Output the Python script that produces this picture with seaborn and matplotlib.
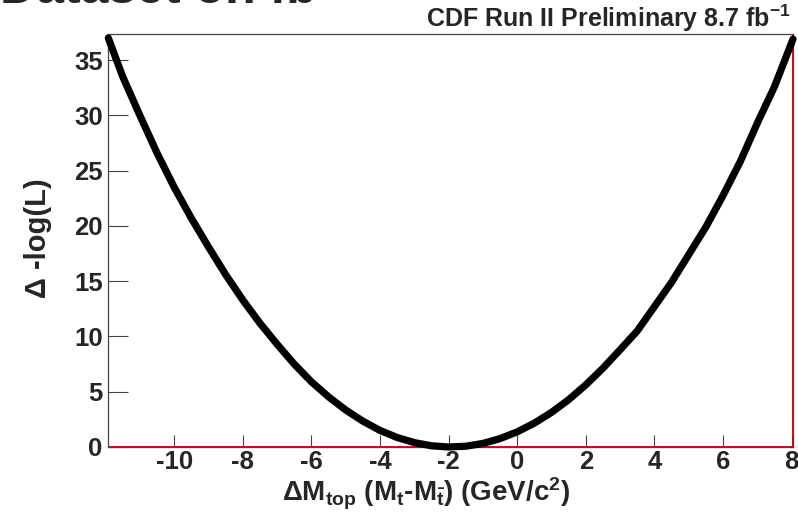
import matplotlib
matplotlib.use("Agg")
import matplotlib.pyplot as plt
import seaborn as sns
import pandas as pd

# Likelihood scan: mass difference (GeV/c^2) vs. Delta -log(L)
delta_m = [-11.92, -11.5, -11.0, -10.5, -10.0, -9.5, -9.0, -8.5, -8.0, -7.5,
           -7.0, -6.5, -6.0, -5.5, -5.0, -4.5, -4.0, -3.5, -3.0, -2.5, -2.0,
           -1.5, -1.0, -0.5, 0.0, 0.5, 1.0, 1.5, 2.0, 2.5, 3.0, 3.5, 4.0, 4.5,
           5.0, 5.5, 6.0, 6.5, 7.0, 7.5, 8.04]
delta_nll = [37.0, 33.5, 30.0, 26.6, 23.5, 20.7, 18.1, 15.6, 13.3, 11.2,
             9.3, 7.5, 5.9, 4.54, 3.35, 2.34, 1.5, 0.86, 0.4, 0.11, 0.0,
             0.07, 0.32, 0.76, 1.37, 2.16, 3.13, 4.28, 5.62, 7.13, 8.8, 10.5,
             12.7, 14.9, 17.4, 19.9, 22.75, 25.8, 29.3, 32.6, 36.9]

# Empty histogram outline drawn along zero and the upper range edge
hist_edge_x = [-11.92, 8.04, 8.04]
hist_edge_y = [0.0, 0.0, 37.36]

x_ticks = [-10, -8, -6, -4, -2, 0, 2, 4, 6, 8]
y_ticks = [0, 5, 10, 15, 20, 25, 30, 35]

sns.set_style("white")
plt.rcParams["font.family"] = ["Liberation Sans", "DejaVu Sans"]
plt.rcParams["font.weight"] = "bold"
plt.rcParams["mathtext.fontset"] = "custom"
plt.rcParams["mathtext.rm"] = "Liberation Sans:bold"
plt.rcParams["mathtext.it"] = "Liberation Sans:bold"
plt.rcParams["mathtext.bf"] = "Liberation Sans:bold"

fig = plt.figure(figsize=(7.98, 5.12), dpi=100)
ax = fig.add_axes([108.3 / 798, 1 - 447 / 512, (793 - 108.3) / 798, (447 - 34) / 512])

scan = pd.DataFrame({"dm": delta_m, "dnll": delta_nll})
edge = pd.DataFrame({"x": hist_edge_x, "y": hist_edge_y})

sns.lineplot(data=edge, x="x", y="y", ax=ax, color="#cc0000", linewidth=1.3,
             sort=False, estimator=None, zorder=3)
sns.lineplot(data=scan, x="dm", y="dnll", ax=ax, color="black", linewidth=5.2,
             sort=False, estimator=None, zorder=4, clip_on=False,
             solid_capstyle="round", solid_joinstyle="round")

ax.set_xlim(-11.92, 8.04)
ax.set_ylim(0, 37.36)
ax.set_xticks(x_ticks)
ax.set_yticks(y_ticks)
ax.set_xticklabels([str(v) for v in x_ticks], fontsize=18.5, fontweight="bold")
ax.set_yticklabels([str(v) for v in y_ticks], fontsize=18.5, fontweight="bold")
ax.tick_params(axis="x", direction="in", length=8.8, width=0.8, color="#444444",
               pad=2, bottom=True, top=False)
ax.tick_params(axis="y", direction="in", length=14.5, width=0.8, color="#444444",
               pad=4, left=True, right=False)
for side in ["left", "top", "right", "bottom"]:
    ax.spines[side].set_color("#444444")
    ax.spines[side].set_linewidth(0.9)

ax.set_xlabel("")
ax.set_ylabel("")
fig.text(38 / 798, 1 - 238 / 512, "\u0394 -log(L)", rotation=90, ha="center",
         va="center", fontsize=21, fontweight="bold")
fig.text(426 / 798, 1 - 494 / 512,
         r"$\Delta$M$_{top}$ (M$_{t}$-M$_{\bar{t}}$) (GeV/c$^{2}$)",
         ha="center", va="center", fontsize=20, fontweight="bold")
fig.text(791 / 798, 1 - 18 / 512, r"CDF Run II Preliminary 8.7 fb$^{-1}$",
         ha="right", va="center", fontsize=18, fontweight="bold")
fig.text(0.0, 1 + 10 / 512, "Dataset on fb", ha="left", va="center",
         fontsize=36, fontweight="bold")

fig.savefig("out.png", dpi=100)
